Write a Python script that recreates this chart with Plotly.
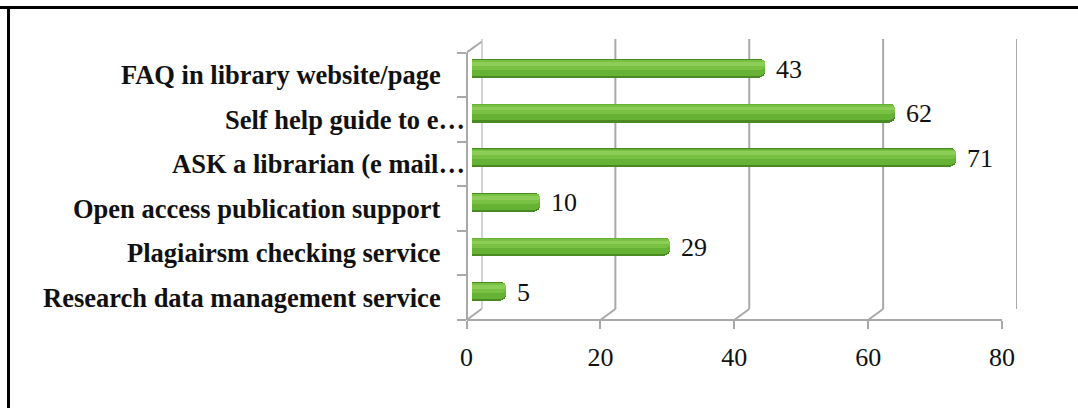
import plotly.graph_objects as go

# ---- data -------------------------------------------------------------
categories = [
    "FAQ in library website/page",
    "Self help guide to e…",
    "ASK a librarian (e mail…",
    "Open access publication support",
    "Plagiairsm checking service",
    "Research data management service",
]
values = [43, 62, 71, 10, 29, 5]
truncated = [False, True, True, False, False, False]
x_ticks = [0, 20, 40, 60, 80]

# ---- geometry helpers (pixel -> paper) ---------------------------------
W, H = 1078, 408


def px(x):
    return x / W


def py(y):
    return 1 - y / H


DX, DY = 15, 11          # depth offset between front and back wall
FRONT_X0, FRONT_X1 = 466.5, 1002.0
FRONT_Y0, FRONT_Y1 = 52.7, 320.0   # top, bottom of the front left edge
GRID = "#A9A9A9"
SERIF = "Liberation Serif, Times New Roman, serif"

# categories listed bottom-to-top for the axes
cats_bt = categories[::-1]
vals_bt = values[::-1]

fig = go.Figure()

# cylinder-like bars built from overlaid layers (dark rim, body, highlights)
layers = [
    dict(width=0.42, offset=-0.215, color="#4A8A22", radius=6),
    dict(width=0.36, offset=-0.165, color="#66B234", radius=5),
    dict(width=0.21, offset=-0.030, color="#78C142", radius=4),
    dict(width=0.08, offset=0.060, color="#8CCD58", radius=2),
]
for L in layers:
    fig.add_trace(go.Bar(
        x=vals_bt, y=cats_bt, orientation="h",
        width=L["width"], offset=L["offset"],
        marker=dict(color=L["color"], line=dict(width=0), cornerradius=L["radius"]),
        xaxis="x", yaxis="y", hoverinfo="skip", showlegend=False,
    ))

# invisible traces so the back-wall and front-axis subplots get drawn
fig.add_trace(go.Scatter(x=[0], y=[0], xaxis="x2", yaxis="y2", mode="markers",
                         marker=dict(opacity=0), hoverinfo="skip", showlegend=False))
fig.add_trace(go.Scatter(x=[0], y=[cats_bt[0]], xaxis="x3", yaxis="y3", mode="markers",
                         marker=dict(opacity=0), hoverinfo="skip", showlegend=False))

# value labels to the right of each bar
annotations = []
for c, v in zip(categories, values):
    annotations.append(dict(
        x=v, y=c, xref="x", yref="y", text=str(v), showarrow=False,
        xanchor="left", yanchor="middle", xshift=9, yshift=-1,
        font=dict(family=SERIF, size=26, color="#111111"),
    ))

# category labels on the left wall
for c, t in zip(categories, truncated):
    annotations.append(dict(
        x=px(467 if t else 443), y=c, xref="paper", yref="y3", text=c,
        showarrow=False, xanchor="right", yanchor="middle",
        font=dict(family=SERIF, size=26.5, color="#111111", weight="bold"),
    ))

shapes = []
# back wall vertical gridlines
for v in x_ticks:
    shapes.append(dict(type="line", xref="x2", yref="y2 domain",
                       x0=v, x1=v, y0=0, y1=1,
                       line=dict(color=GRID, width=2), layer="below"))
# floor diagonals from front ticks to back gridlines
for v in x_ticks:
    shapes.append(dict(type="line", xref="x3", yref="paper",
                       xsizemode="pixel", xanchor=v, x0=0, x1=DX,
                       ysizemode="pixel", yanchor=py(FRONT_Y1), y0=0, y1=DY,
                       line=dict(color=GRID, width=2), layer="below"))
# top edge of the left wall
shapes.append(dict(type="line", xref="x3", yref="paper",
                   xsizemode="pixel", xanchor=0, x0=0, x1=DX,
                   ysizemode="pixel", yanchor=py(FRONT_Y0), y0=0, y1=DY,
                   line=dict(color=GRID, width=2), layer="below"))
# page frame (top and left)
shapes.append(dict(type="line", xref="paper", yref="paper",
                   x0=0, x1=1, y0=py(7.5), y1=py(7.5),
                   line=dict(color="black", width=3)))
shapes.append(dict(type="line", xref="paper", yref="paper",
                   x0=px(8.5), x1=px(8.5), y0=0, y1=py(6),
                   line=dict(color="black", width=3)))

fig.update_layout(
    width=W, height=H, autosize=False,
    margin=dict(l=0, r=0, t=0, b=0, pad=0, autoexpand=False),
    paper_bgcolor="white", plot_bgcolor="rgba(0,0,0,0)",
    barmode="overlay", bargap=0,
    showlegend=False,
    annotations=annotations,
    shapes=shapes,
    # bars (mid-depth plane)
    xaxis=dict(domain=[px(472), px(1017.5)], range=[0, 80],
               visible=False, anchor="y", fixedrange=True, automargin=False),
    yaxis=dict(domain=[py(313.5), py(45.7)], type="category",
               categoryorder="array", categoryarray=cats_bt,
               range=[-0.5, 5.5], visible=False, anchor="x", fixedrange=True,
               automargin=False),
    # back wall
    xaxis2=dict(domain=[px(FRONT_X0 + DX), px(FRONT_X1 + DX)], range=[0, 80],
                visible=False, anchor="y2", automargin=False),
    yaxis2=dict(domain=[py(309), py(39)], range=[0, 1],
                visible=False, anchor="x2", automargin=False),
    # front axes
    xaxis3=dict(domain=[px(FRONT_X0), px(FRONT_X1)], range=[0, 80],
                anchor="free", position=py(FRONT_Y1), automargin=False,
                showline=True, linecolor=GRID, linewidth=2,
                ticks="outside", ticklen=8, tickwidth=2, tickcolor=GRID,
                tickvals=x_ticks, ticklabelstandoff=6,
                tickfont=dict(family=SERIF, size=26, color="#111111"),
                showgrid=False, zeroline=False),
    yaxis3=dict(domain=[py(FRONT_Y1), py(FRONT_Y0)], type="category",
                categoryorder="array", categoryarray=cats_bt,
                range=[-0.5, 5.5], anchor="free", position=px(FRONT_X0),
                automargin=False,
                showline=True, linecolor=GRID, linewidth=2,
                ticks="outside", ticklen=9, tickwidth=2, tickcolor=GRID,
                tickson="boundaries", showticklabels=False,
                showgrid=False, zeroline=False),
)

fig.write_html("out.html")
